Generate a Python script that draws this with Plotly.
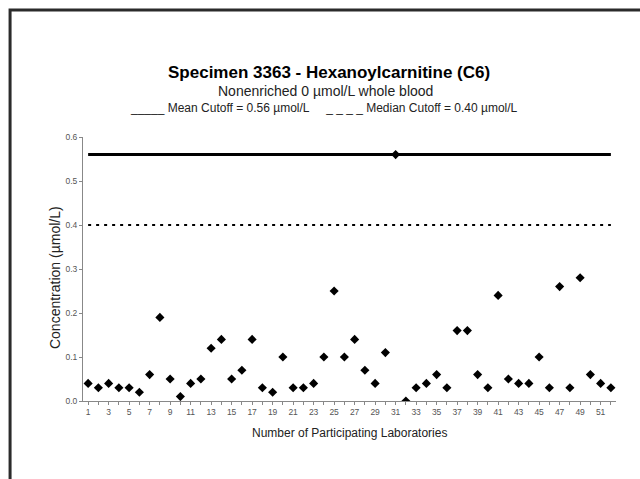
import plotly.graph_objects as go

# Participating laboratory numbers and their reported C6 concentrations (µmol/L)
labs = list(range(1, 53))
concentration = [
    0.04, 0.03, 0.04, 0.03, 0.03, 0.02, 0.06, 0.19, 0.05, 0.01,
    0.04, 0.05, 0.12, 0.14, 0.05, 0.07, 0.14, 0.03, 0.02, 0.10,
    0.03, 0.03, 0.04, 0.10, 0.25, 0.10, 0.14, 0.07, 0.04, 0.11,
    0.56, 0.00, 0.03, 0.04, 0.06, 0.03, 0.16, 0.16, 0.06, 0.03,
    0.24, 0.05, 0.04, 0.04, 0.10, 0.03, 0.26, 0.03, 0.28, 0.06,
    0.04, 0.03,
]
mean_cutoff = 0.56
median_cutoff = 0.40
x_tick_text = [str(n) if n % 2 == 1 else "" for n in labs]
y_tick_vals = [0.0, 0.1, 0.2, 0.3, 0.4, 0.5, 0.6]

FONT = "Arial, 'Liberation Sans', sans-serif"
W, H = 640, 479
L, R, T, B = 83, 616.5, 137, 401  # plot area in pixels


def px_x(p):
    return (p - L) / (R - L)


def px_y(p):
    return (B - p) / (B - T)


fig = go.Figure()

# cutoff lines
fig.add_trace(go.Scatter(
    x=[labs[0], labs[-1]], y=[mean_cutoff, mean_cutoff], mode="lines",
    line=dict(color="black", width=3), hoverinfo="skip", showlegend=False,
))
fig.add_trace(go.Scatter(
    x=[labs[0], labs[-1]], y=[median_cutoff, median_cutoff], mode="lines",
    line=dict(color="black", width=2, dash="3px,5px"), hoverinfo="skip",
    showlegend=False,
))

# laboratory results
fig.add_trace(go.Scatter(
    x=labs, y=concentration, mode="markers",
    marker=dict(symbol="diamond", size=7, color="black"),
    showlegend=False,
))

nb = "\u00a0"
legend_line = ("_____" + nb + "Mean Cutoff = 0.56 µmol/L" + nb * 5 +
               "_" + nb + "_" + nb + "_" + nb + "_" + nb +
               "Median Cutoff = 0.40 µmol/L")

annotations = [
    dict(text="<b>Specimen 3363 - Hexanoylcarnitine (C6)</b>",
         x=px_x(329), y=px_y(72), font=dict(size=17, color="black")),
    dict(text="Nonenriched 0 µmol/L whole blood",
         x=px_x(326), y=px_y(91), font=dict(size=14, color="#222")),
    dict(text=legend_line,
         x=px_x(324), y=px_y(108), font=dict(size=12, color="#222")),
    dict(text="Concentration (µmol/L)", textangle=-90,
         x=px_x(55), y=px_y(278), font=dict(size=14, color="#222")),
    dict(text="Number of Participating Laboratories",
         x=px_x(350), y=px_y(433), font=dict(size=12, color="#222")),
]
for a in annotations:
    a.update(xref="paper", yref="paper", showarrow=False,
             xanchor="center", yanchor="middle")

fig.update_layout(
    width=W, height=H,
    margin=dict(l=L, r=W - R, t=T, b=H - B, pad=0),
    paper_bgcolor="white", plot_bgcolor="white",
    font=dict(family=FONT),
    annotations=annotations,
    shapes=[dict(type="rect", xref="paper", yref="paper",
                 x0=px_x(10), x1=px_x(720), y0=px_y(520), y1=px_y(10),
                 line=dict(color="#2b2b2b", width=3), layer="above")],
)
fig.update_xaxes(
    range=[0.5, 52.5], tickvals=labs, ticktext=x_tick_text,
    ticks="outside", ticklen=3, tickcolor="#888", tickwidth=1,
    showline=True, linecolor="#888", linewidth=1,
    showgrid=False, zeroline=False,
    tickfont=dict(size=8.5, color="#555"),
)
fig.update_yaxes(
    range=[0, 0.6], tickvals=y_tick_vals, tickformat=".1f",
    ticks="outside", ticklen=3, tickcolor="#888", tickwidth=1,
    showline=True, linecolor="#888", linewidth=1,
    showgrid=False, zeroline=False,
    tickfont=dict(size=8.5, color="#555"),
)

fig.write_html("out.html")
